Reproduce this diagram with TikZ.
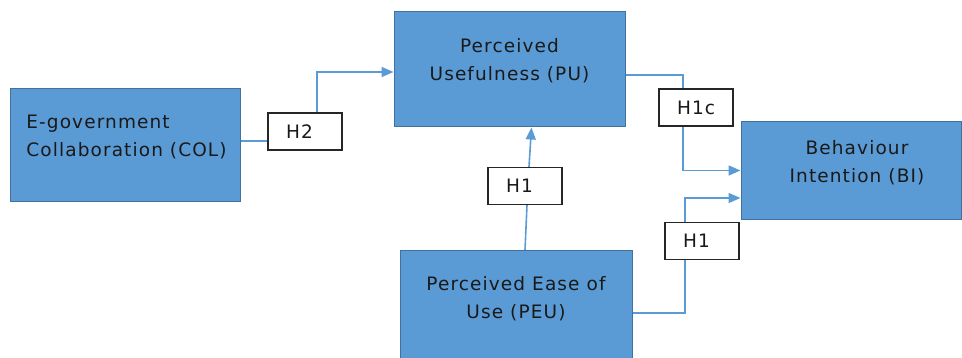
\documentclass[tikz,border=0pt]{standalone}
\usepackage{fontspec}
\setmainfont[LetterSpace=6]{DejaVu Sans}
\usetikzlibrary{arrows.meta, positioning}
\definecolor{boxblue}{HTML}{5B9BD5}
\definecolor{boxedge}{HTML}{41719C}
\tikzset{
    construct/.style={draw=boxedge, fill=boxblue, line width=1pt, inner sep=0pt}, % the blue boxes
    boxtext/.style={align=center, text=black!90, font=\fontsize{18.5}{28}\selectfont}, % text inside the blue boxes
    hyp/.style={draw=black!85, fill=white, line width=1.3pt, text width=38pt, inner xsep=18pt, inner ysep=0pt, minimum height=37pt, align=left, text=black!90, font=\fontsize{18.5}{20}\selectfont}, % hypothesis labels
    link/.style={draw=boxblue, line width=1.6pt}, % plain connector
    arrow/.style={link, -{Triangle[length=12pt, width=10pt]}}, % connector ending in a head
}
\begin{document}
\begin{tikzpicture}[x=1pt, y=-1pt]
    \useasboundingbox (0,0) rectangle (962,358);
    \node[construct, minimum width=230pt, minimum height=113pt, label={[boxtext, align=left, xshift=1.5pt, yshift=8.5pt]center:E-government\\Collaboration (COL)}] (col) at (125,145.5) {};
    \node[construct, minimum width=231pt, minimum height=115pt, label={[boxtext, yshift=8.5pt]center:Perceived\\Usefulness (PU)}] (pu) at (509.5,69.5) {};
    \node[construct, minimum width=220pt, minimum height=98pt, label={[boxtext, xshift=6pt, yshift=8pt]center:Behaviour\\Intention (BI)}] (bi) at (851,170.5) {};
    \node[construct, minimum width=232pt, minimum height=110pt, label={[boxtext, yshift=7pt]center:Perceived Ease of\\Use (PEU)}] (peu) at (516,305.5) {};
    \node[hyp] (h2) at (305,131.5) {H2};
    \node[hyp] (h1c) at (696,107.5) {H1c};
    \node[hyp] (h1a) at (525,186) {H1};
    \node[hyp] (h1b) at (702,241) {H1};
    \draw[link] ([yshift=4.5pt]col.east) -- ([yshift=4.5pt]col.east -| h2.west);
    \draw[arrow] ([xshift=12pt]h2.north) |- ([yshift=-2.5pt]pu.west);
    \draw[link] ([yshift=-5.5pt]pu.east) -| ([xshift=-13pt]h1c.north);
    \draw[arrow] ([xshift=-13pt]h1c.south) |- (bi.west);
    \draw[link] ([yshift=-7.5pt]peu.east) -| ([xshift=-17pt]h1b.south);
    \draw[arrow] ([xshift=-17pt]h1b.north) |- ([yshift=-27.5pt]bi.west);
    \draw[link] ([xshift=9pt]peu.north) -- ([xshift=2pt]h1a.south);
    \draw[arrow] ([xshift=4pt]h1a.north) -- ([xshift=22pt]pu.south);
\end{tikzpicture}
\end{document}
